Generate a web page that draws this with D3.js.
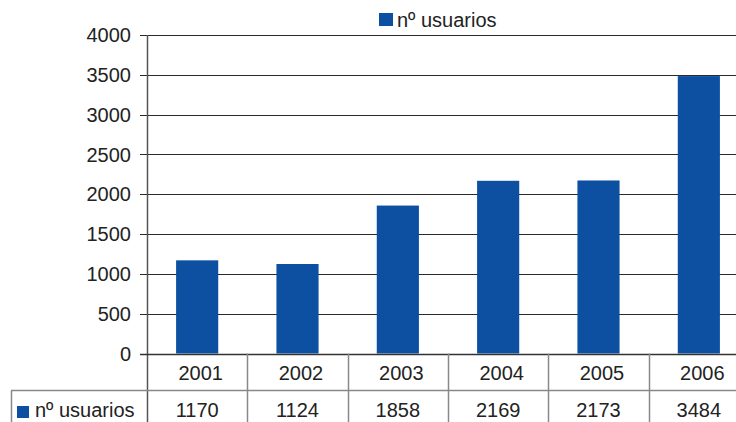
<!DOCTYPE html>
<html><head><meta charset="utf-8">
<script src="https://cdn.jsdelivr.net/npm/d3@7"></script>
<style>body{margin:0;background:#fff}svg{display:block;font-family:"Liberation Sans",Arial,sans-serif}</style>
</head><body><svg id="c" width="736" height="422"></svg>
<script>
const categories = ["2001","2002","2003","2004","2005","2006"];
const values = [1170,1124,1858,2169,2173,3484];
const seriesName = "nº usuarios";
const yTicks = [0,500,1000,1500,2000,2500,3000,3500,4000];
const color = "#0d4fa1";

const svg = d3.select("#c");
const pLeft = 147, pRight = 749, pTop = 35, pBottom = 353.5;
const x = d3.scaleBand().domain(categories).range([pLeft, pRight]).paddingInner(0.58).paddingOuter(0.29);
const xb = d3.scaleBand().domain(categories).range([pLeft, pRight]);
const y = d3.scaleLinear().domain([0,4000]).range([pBottom, pTop]);

// gridlines
svg.append("g").selectAll("line").data(yTicks).join("line")
  .attr("x1", 140).attr("x2", 736)
  .attr("y1", d => Math.round(y(d))+0.5).attr("y2", d => Math.round(y(d))+0.5)
  .attr("stroke", "#2a2a2a").attr("stroke-width", 1.2);

// y labels
svg.append("g").selectAll("text").data(yTicks).join("text")
  .attr("x", 131).attr("y", d => y(d)).attr("dy", "0.36em")
  .attr("text-anchor", "end").attr("font-size", 20).attr("fill", "#222")
  .text(d => d);

// bars
svg.append("g").selectAll("rect").data(values).join("rect")
  .attr("x", (d,i) => x(categories[i])).attr("width", x.bandwidth())
  .attr("y", d => y(d)).attr("height", d => pBottom - y(d))
  .attr("fill", color);

// axis line
svg.append("line").attr("x1", pLeft+0.5).attr("x2", pLeft+0.5).attr("y1", pTop).attr("y2", 422)
  .attr("stroke", "#555").attr("stroke-width", 1.5);
svg.append("line").attr("x1", 140).attr("x2", 736).attr("y1", Math.round(pBottom)+0.5).attr("y2", Math.round(pBottom)+0.5)
  .attr("stroke", "#333").attr("stroke-width", 1.5);

// table
const rowSep = 390.5;
svg.append("line").attr("x1", 11).attr("x2", 736).attr("y1", rowSep).attr("y2", rowSep).attr("stroke", "#888").attr("stroke-width", 1.5);
svg.append("line").attr("x1", 11.5).attr("x2", 11.5).attr("y1", rowSep).attr("y2", 422).attr("stroke", "#888").attr("stroke-width", 1.5);
svg.append("g").selectAll("line").data(categories.slice(1)).join("line")
  .attr("x1", d => Math.round(xb(d))+0.5).attr("x2", d => Math.round(xb(d))+0.5)
  .attr("y1", pBottom).attr("y2", 422).attr("stroke", "#888").attr("stroke-width", 1.5);

svg.append("g").selectAll("text").data(categories).join("text")
  .attr("x", d => xb(d) + xb.bandwidth()/2 + 3.5).attr("y", 373).attr("dy", "0.36em")
  .attr("text-anchor", "middle").attr("font-size", 20).attr("fill", "#222").text(d => d);
svg.append("g").selectAll("text").data(values).join("text")
  .attr("x", (d,i) => xb(categories[i]) + xb.bandwidth()/2).attr("y", 410).attr("dy", "0.36em")
  .attr("text-anchor", "middle").attr("font-size", 20).attr("fill", "#222").text(d => d);

svg.append("rect").attr("x", 17).attr("y", 406).attr("width", 12).attr("height", 12).attr("fill", color);
svg.append("text").attr("x", 35).attr("y", 410).attr("dy", "0.36em").attr("font-size", 20).attr("fill", "#222").text(seriesName);

// legend
svg.append("rect").attr("x", 379).attr("y", 13).attr("width", 14).attr("height", 13).attr("fill", color);
svg.append("text").attr("x", 397).attr("y", 20).attr("dy", "0.36em").attr("font-size", 20).attr("fill", "#222").text(seriesName);
</script></body></html>
